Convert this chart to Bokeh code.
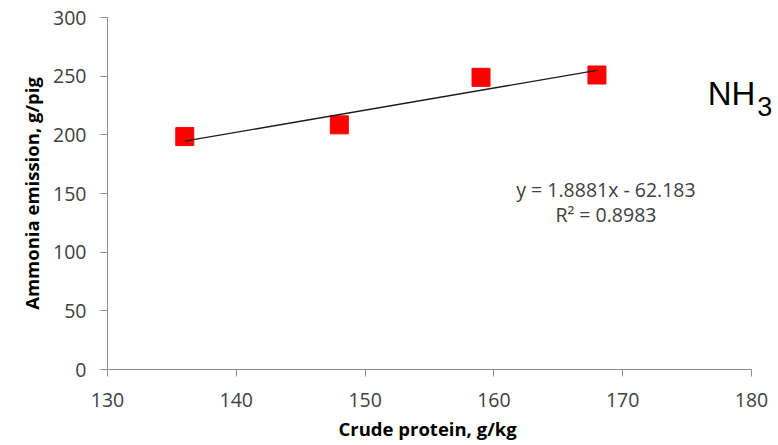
from bokeh.plotting import figure
from bokeh.models import Label, FixedTicker, Title
from bokeh.embed import file_html
from bokeh.resources import INLINE

# Data
crude_protein = [136, 148, 159, 168]
ammonia = [198.5, 208.5, 249, 251]
slope = 1.8881
intercept = -62.183
r_squared = 0.8983
x_ticks = [130, 140, 150, 160, 170, 180]
y_ticks = [0, 50, 100, 150, 200, 250, 300]

trend_x = [min(crude_protein), max(crude_protein)]
trend_y = [slope * v + intercept for v in trend_x]

# frame spans full width to the right so the NH3 label is not clipped;
# axis itself is bounded to 130..180
x_end = 130 + 50 * (778 - 107) / (751 - 107)

p = figure(width=778, height=445, x_range=(130, x_end), y_range=(0, 300),
           output_backend="svg", toolbar_location=None,
           min_border_left=107, min_border_right=0,
           min_border_top=17, min_border_bottom=75)
p.outline_line_color = None
p.xgrid.visible = False
p.ygrid.visible = False
p.background_fill_color = "white"
p.border_fill_color = "white"

p.scatter(crude_protein, ammonia, marker="square", size=18,
          fill_color="#FF0000", line_color="#FF0000")
p.line(trend_x, trend_y, line_color="#1a1a1a", line_width=1.3)

for ax in (p.xaxis[0], p.yaxis[0]):
    ax.axis_line_color = "#8c8c8c"
    ax.major_tick_line_color = "#8c8c8c"
    ax.major_tick_out = 7
    ax.major_tick_in = 0
    ax.minor_tick_line_color = None
    ax.major_label_text_font = "Open Sans"
    ax.major_label_text_font_size = "19.5px"
    ax.major_label_text_color = "#404040"
    ax.axis_label_text_font = "Open Sans"
    ax.axis_label_text_font_style = "bold"
    ax.axis_label_text_font_size = "18.5px"
    ax.axis_label_text_color = "#000000"

p.xaxis.bounds = (130, 180)
p.xaxis.ticker = FixedTicker(ticks=x_ticks)
p.yaxis.ticker = FixedTicker(ticks=y_ticks)
p.yaxis.axis_label = "Ammonia emission, g/pig"
p.xaxis.major_label_standoff = 16
p.yaxis.major_label_standoff = 14
p.yaxis.axis_label_standoff = 6

p.add_layout(Title(text="Crude protein, g/kg", align="left", offset=231,
                   text_font="Open Sans", text_font_style="bold",
                   text_font_size="18.5px", text_color="#000000",
                   standoff=9), "below")

eq1 = "y = %.4fx - %.3f" % (slope, -intercept)
eq2 = "R² = %.4f" % r_squared
p.add_layout(Label(x=168.7, y=153, text=eq1, text_align="center",
                   text_baseline="middle", text_font="Open Sans",
                   text_font_size="19.5px", text_color="#404040"))
p.add_layout(Label(x=168.7, y=132.5, text=eq2, text_align="center",
                   text_baseline="middle", text_font="Open Sans",
                   text_font_size="19.5px", text_color="#404040"))

p.add_layout(Label(x=176.6, y=235.4, text="NH", text_align="left",
                   text_baseline="alphabetic", text_font="Liberation Sans",
                   text_font_size="33px", text_color="#000000"))
p.add_layout(Label(x=180.45, y=224.3, text="3", text_align="left",
                   text_baseline="alphabetic", text_font="Liberation Sans",
                   text_font_size="27px", text_color="#000000"))

open("out.html", "w").write(file_html(p, INLINE))
